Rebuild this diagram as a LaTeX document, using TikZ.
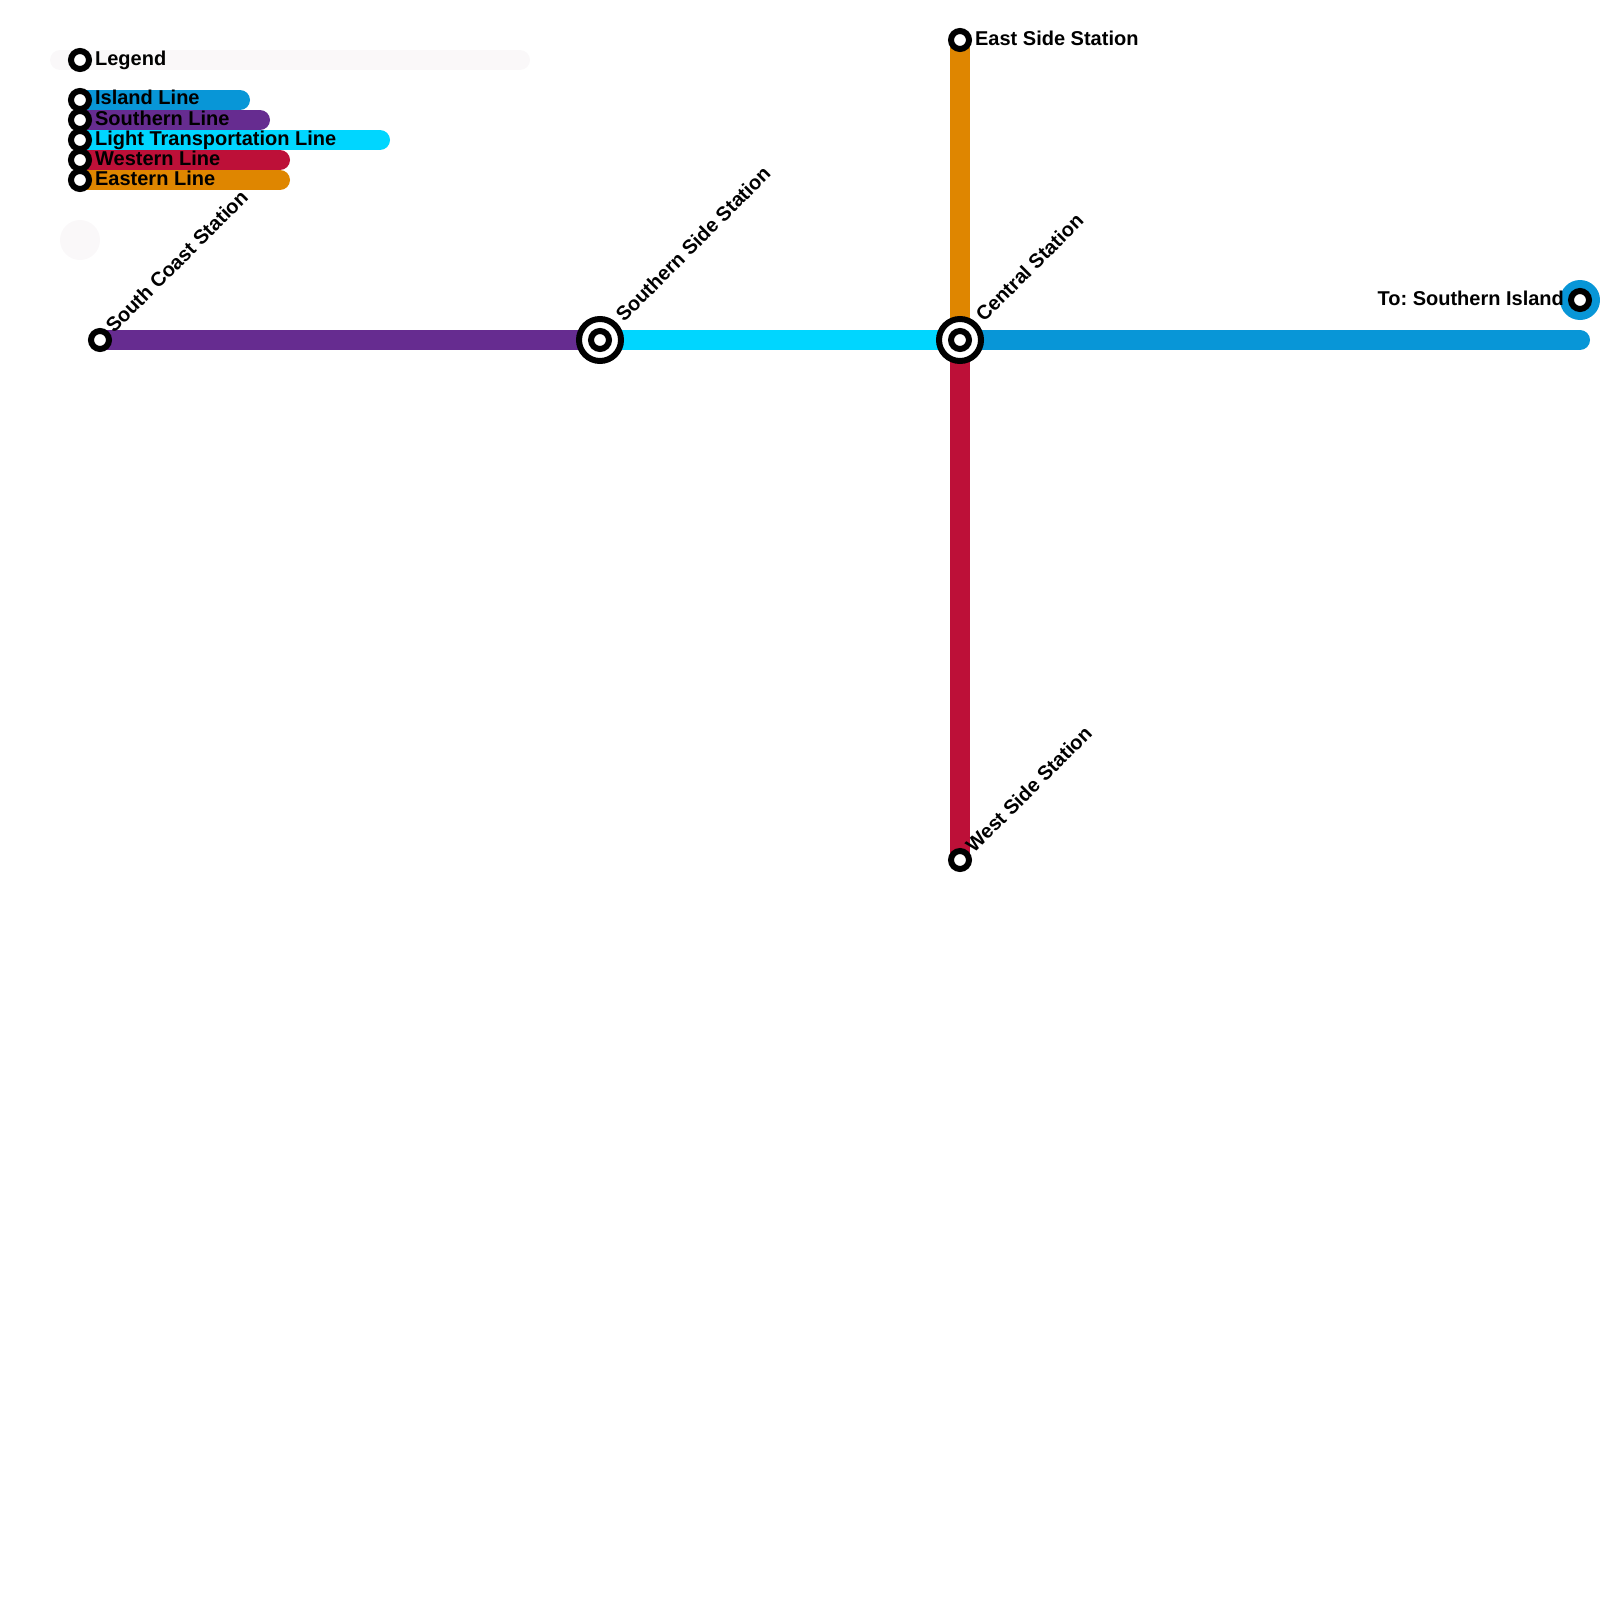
\documentclass[tikz,border=0pt]{standalone}
\usepackage{fontspec}
\setmainfont{Liberation Sans}
\usepackage{tikz}

\definecolor{islandblue}{HTML}{0896D7}
\definecolor{southpurple}{HTML}{662C90}
\definecolor{lightcyan}{HTML}{00D6FF}
\definecolor{westred}{HTML}{BD1038}
\definecolor{eastorange}{HTML}{DF8600}
\definecolor{legendgrey}{HTML}{FAF8F9}

\tikzset{
  metroline/.style={line width=10mm, line cap=round},
  stationdot/.style={circle, draw=black, fill=white, line width=3mm, minimum size=9mm, inner sep=0pt},
  interchange/.style={circle, draw=black, fill=white, line width=3mm, minimum size=21mm, inner sep=0pt},
  stationname/.style={font=\fontsize{28.45pt}{34pt}\selectfont\bfseries\frenchspacing, inner sep=0pt, anchor=base west, text=black},
  slantname/.style={stationname, rotate=45}
}

\begin{document}
\begin{tikzpicture}[x=0.5mm, y=-0.5mm]
            \useasboundingbox (0,0) rectangle (1600,1600);
            \coordinate (legend) at (80,60);
            \coordinate (legendleft) at (60,60);
            \coordinate (legendright) at (520,60);
            \coordinate (islandkey) at (80,100);
            \coordinate (islandkeyend) at (240,100);
            \coordinate (southernkey) at (80,120);
            \coordinate (southernkeyend) at (260,120);
            \coordinate (lightkey) at (80,140);
            \coordinate (lightkeyend) at (380,140);
            \coordinate (westernkey) at (80,160);
            \coordinate (westernkeyend) at (280,160);
            \coordinate (easternkey) at (80,180);
            \coordinate (easternkeyend) at (280,180);
            \coordinate (southcoast) at (100,340);
            \coordinate (southernside) at (600,340);
            \coordinate (central) at (960,340);
            \coordinate (eastside) at (960,40);
            \coordinate (westside) at (960,860);
            \coordinate (islandend) at (1580,340);
            \coordinate (toisland) at (1580,300);

            \draw[metroline, legendgrey] (legendleft) -- (legendright);
            \node[circle, fill=legendgrey, minimum size=20mm, inner sep=0pt] (legendspot) at (80,240) {};

            \draw[metroline, islandblue] (islandkey) -- (islandkeyend);
            \draw[metroline, southpurple] (southernkey) -- (southernkeyend);
            \draw[metroline, lightcyan] (lightkey) -- (lightkeyend);
            \draw[metroline, westred] (westernkey) -- (westernkeyend);
            \draw[metroline, eastorange] (easternkey) -- (easternkeyend);

            \draw[metroline, southpurple] (southcoast) -- (southernside);
            \draw[metroline, lightcyan] (southernside) -- (central);
            \draw[metroline, islandblue] (central) -- (islandend);
            \draw[metroline, eastorange] (eastside) -- (central);
            \draw[metroline, westred] (central) -- (westside);
            \node[circle, fill=islandblue, minimum size=20mm, inner sep=0pt] (toislandspot) at (toisland) {};

            \node[stationdot] (legenddot) at (legend) {};
            \node[stationdot] (islanddot) at (islandkey) {};
            \node[stationdot] (southerndot) at (southernkey) {};
            \node[stationdot] (lightdot) at (lightkey) {};
            \node[stationdot] (westerndot) at (westernkey) {};
            \node[stationdot] (easterndot) at (easternkey) {};

            \node[stationdot] (southcoastdot) at (southcoast) {};
            \node[interchange] (southernsidering) at (southernside) {};
            \node[stationdot] (southernsidedot) at (southernside) {};
            \node[interchange] (centralring) at (central) {};
            \node[stationdot] (centraldot) at (central) {};
            \node[stationdot] (eastsidedot) at (eastside) {};
            \node[stationdot] (westsidedot) at (westside) {};
            \node[stationdot] (toislanddot) at (toisland) {};

            \node[stationname] (legendtext) at (95,66) {Legend};
            \node[stationname] (islandtext) at (95,105) {Island Line};
            \node[stationname] (southerntext) at (95,125) {Southern Line};
            \node[stationname] (lighttext) at (95,145) {Light Transportation Line};
            \node[stationname] (westerntext) at (95,165) {Western Line};
            \node[stationname] (easterntext) at (95,185) {Eastern Line};

            \node[slantname] (southcoasttext) at (114,334) {South Coast Station};
            \node[slantname] (southernsidetext) at (624,323) {Southern Side Station};
            \node[slantname] (centraltext) at (984,323) {Central Station};
            \node[slantname] (westsidetext) at (974,854) {West Side Station};
            \node[stationname] (eastsidetext) at (975,46) {East Side Station};
            \node[stationname, anchor=base east] (toislandtext) at (1564,305) {To: Southern Island};
        \end{tikzpicture}
\end{document}
